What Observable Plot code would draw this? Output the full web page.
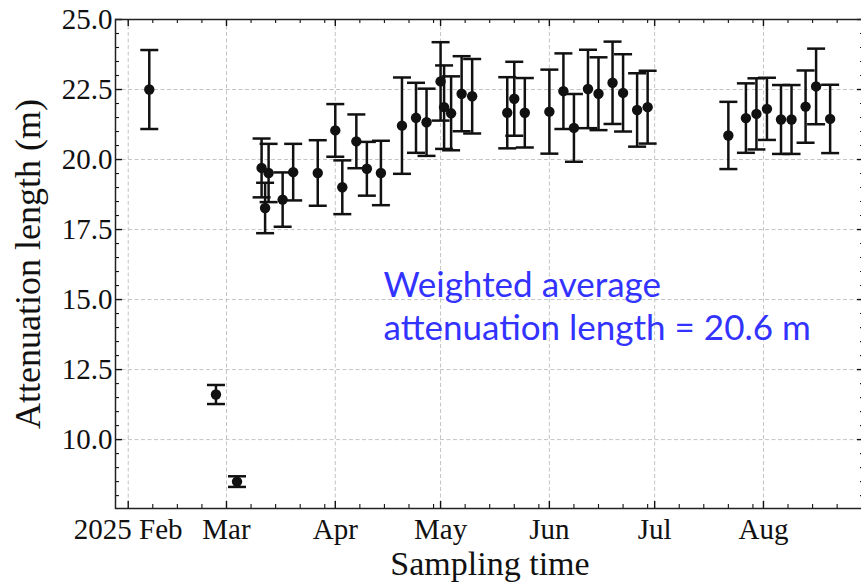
<!DOCTYPE html>
<html><head><meta charset="utf-8">
<script src="https://cdn.jsdelivr.net/npm/d3@7"></script>
<script src="https://cdn.jsdelivr.net/npm/@observablehq/plot@0.6"></script>
<style>
html,body{margin:0;padding:0;background:#fff;overflow:hidden;}
</style>
</head><body><div id="chart"></div>
<script>
// ---- data ----
const sampleDates = [
  "2025-02-07","2025-02-26","2025-03-04","2025-03-11","2025-03-12","2025-03-13",
  "2025-03-17","2025-03-20","2025-03-27","2025-04-01","2025-04-03","2025-04-07",
  "2025-04-10","2025-04-14","2025-04-20","2025-04-24","2025-04-27","2025-05-01",
  "2025-05-02","2025-05-04","2025-05-07","2025-05-10","2025-05-20","2025-05-22",
  "2025-05-25","2025-06-01","2025-06-05","2025-06-08","2025-06-12","2025-06-15",
  "2025-06-19","2025-06-22","2025-06-26","2025-06-29","2025-07-22","2025-07-27",
  "2025-07-30","2025-08-02","2025-08-06","2025-08-09","2025-08-13","2025-08-16",
  "2025-08-20"
];
const attenuationLength = [
  22.50, 11.61, 8.50, 19.70, 18.27, 19.52,
  18.57, 19.55, 19.52, 21.04, 19.01, 20.65,
  19.67, 19.52, 21.21, 21.49, 21.33, 22.79,
  21.87, 21.65, 22.35, 22.26, 21.67, 22.17,
  21.67, 21.71, 22.44, 21.13, 22.52, 22.35,
  22.74, 22.38, 21.77, 21.87, 20.86, 21.48,
  21.63, 21.81, 21.43, 21.43, 21.89, 22.61,
  21.45
];
const attenuationError = [
  1.41, 0.34, 0.19, 1.05, 0.90, 1.04,
  0.97, 1.01, 1.17, 0.94, 0.96, 0.96,
  0.96, 1.15, 1.72, 1.25, 1.20, 1.40,
  1.49, 1.32, 1.34, 1.33, 1.27, 1.32,
  1.24, 1.50, 1.35, 1.21, 1.40, 1.30,
  1.47, 1.38, 1.31, 1.30, 1.20, 1.24,
  1.27, 1.11, 1.23, 1.23, 1.29, 1.35,
  1.22
];
const xTickDates  = ["2025-02-01","2025-03-01","2025-04-01","2025-05-01","2025-06-01","2025-07-01","2025-08-01"];
const xTickLabels = ["2025 Feb","Mar","Apr","May","Jun","Jul","Aug"];
const yTickValues = [10, 12.5, 15, 17.5, 20, 22.5, 25];
const yTickLabels = ["10.0","12.5","15.0","17.5","20.0","22.5","25.0"];
const xAxisLabel = "Sampling time";
const yAxisLabel = "Attenuation length (m)";
const annotationLines = ["Weighted average", "attenuation length = 20.6 m"];

// ---- build table ----
const rows = sampleDates.map((d, i) => ({
  date: new Date(d + "T00:00:00Z"),
  value: attenuationLength[i],
  lo: attenuationLength[i] - attenuationError[i],
  hi: attenuationLength[i] + attenuationError[i]
}));
const majorX = xTickDates.map(d => new Date(d + "T00:00:00Z"));
const xLabelMap = new Map(majorX.map((d, i) => [d.getTime(), xTickLabels[i]]));
const yLabelMap = new Map(yTickValues.map((v, i) => [v, yTickLabels[i]]));
// minor ticks: days 8,15,22,29 of each month; every 0.5 in y
const minorX = [];
for (let m = 1; m <= 7; m++) for (const day of [8, 15, 22, 29]) {
  const dt = new Date(Date.UTC(2025, m, day));
  if (dt.getUTCMonth() === m) minorX.push(dt);
}
const minorY = d3.range(8, 25.01, 0.5).filter(v => !yTickValues.includes(v));

const FW = 749, FH = 489; // frame size in px
const capSymbol = {draw(ctx) { ctx.moveTo(-9, 0); ctx.lineTo(9, 0); }};
const serif = "'Liberation Serif', 'Times New Roman', serif";
const ink = "#111";
const gridStyle = {stroke: "#c4c4c4", strokeOpacity: 1, strokeWidth: 1, strokeDasharray: "4,2.5"};

const chart = Plot.plot({
  width: 861, height: 584,
  marginLeft: 115, marginRight: -3, marginTop: 19, marginBottom: 76,
  x: {type: "utc", domain: [new Date(Date.UTC(2025, 0, 28, 9)), new Date(Date.UTC(2025, 7, 29, 19))]},
  y: {domain: [7.54, 25]},
  style: {fontFamily: serif, color: ink, background: "white", overflow: "visible"},
  marks: [
    Plot.gridX(majorX, gridStyle),
    Plot.gridY(yTickValues.filter(v => v < 25), gridStyle),
    // inward ticks on all four sides
    Plot.tickX(majorX, {x: d => d, insetTop: FH - 7, stroke: ink, strokeWidth: 1.4}),
    Plot.tickX(majorX, {x: d => d, insetBottom: FH - 7, stroke: ink, strokeWidth: 1.4}),
    Plot.tickX(minorX, {x: d => d, insetTop: FH - 4, stroke: ink, strokeWidth: 1.1}),
    Plot.tickX(minorX, {x: d => d, insetBottom: FH - 4, stroke: ink, strokeWidth: 1.1}),
    Plot.tickY(yTickValues, {y: d => d, insetRight: FW - 7, stroke: ink, strokeWidth: 1.4}),
    Plot.tickY(yTickValues, {y: d => d, insetLeft: FW - 7, stroke: ink, strokeWidth: 1.4}),
    Plot.tickY(minorY, {y: d => d, insetRight: FW - 4, stroke: ink, strokeWidth: 1.1}),
    Plot.tickY(minorY, {y: d => d, insetLeft: FW - 4, stroke: ink, strokeWidth: 1.1}),
    // error bars
    Plot.ruleX(rows, {x: "date", y1: "lo", y2: "hi", stroke: ink, strokeWidth: 2.5}),
    Plot.dot(rows, {x: "date", y: "lo", symbol: capSymbol, fill: "none", stroke: ink, strokeWidth: 2.5}),
    Plot.dot(rows, {x: "date", y: "hi", symbol: capSymbol, fill: "none", stroke: ink, strokeWidth: 2.5}),
    Plot.dot(rows, {x: "date", y: "value", r: 5.2, fill: ink, stroke: null}),
    Plot.frame({stroke: "#222", strokeWidth: 1.5}),
    // tick labels
    Plot.axisX(majorX, {tickSize: 0, tickPadding: 10, label: null, fontSize: 29,
      tickFormat: d => xLabelMap.get(d.getTime())}),
    Plot.axisY(yTickValues, {tickSize: 0, tickPadding: 3, label: null, fontSize: 29,
      tickFormat: d => yLabelMap.get(d)}),
    // axis titles
    Plot.text([xAxisLabel], {frameAnchor: "bottom", dy: 56, fontSize: 34, lineAnchor: "middle", textAnchor: "middle", fill: ink}),
    Plot.text([yAxisLabel], {frameAnchor: "left", dx: -87.5, rotate: -90, fontSize: 36, lineAnchor: "middle", textAnchor: "middle", fill: ink}),
    // annotation
    Plot.text([annotationLines[0]], {frameAnchor: "top-left", textAnchor: "start", lineAnchor: "middle",
      dx: 268, dy: 266, fontSize: 35, fontFamily: "Lato, 'Open Sans', sans-serif", fill: "#3333ff"}),
    Plot.text([annotationLines[1]], {frameAnchor: "top-left", textAnchor: "start", lineAnchor: "middle",
      dx: 268, dy: 309, fontSize: 35, fontFamily: "Lato, 'Open Sans', sans-serif", fill: "#3333ff"})
  ]
});
document.getElementById("chart").appendChild(chart);
</script>
</body></html>
